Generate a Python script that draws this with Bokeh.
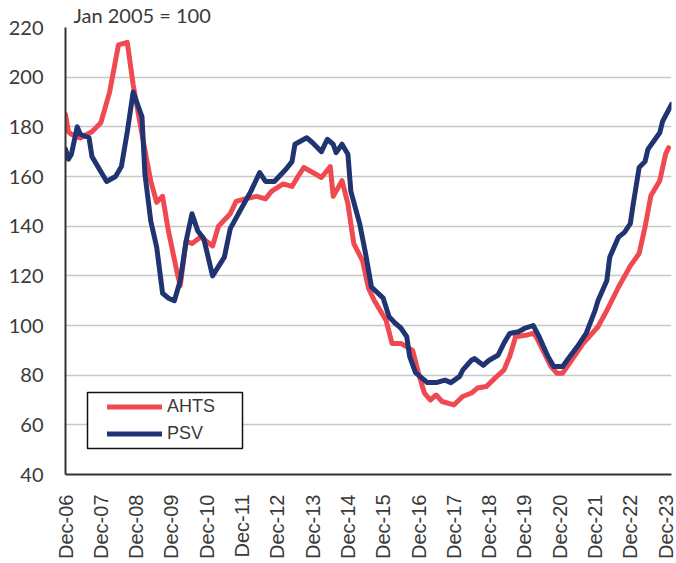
from bokeh.plotting import figure
from bokeh.models import (ColumnDataSource, FixedTicker, Legend, LegendItem,
                          BoxAnnotation, Range1d)
from bokeh.embed import file_html
from bokeh.resources import INLINE

# ---- data (x = months since Dec 2006) ----
tick_months = [0, 12, 24, 36, 48, 60, 72, 84, 96, 108, 120, 132, 144, 156, 168, 180, 192, 204]
tick_labels = ["Dec-06", "Dec-07", "Dec-08", "Dec-09", "Dec-10", "Dec-11", "Dec-12", "Dec-13",
               "Dec-14", "Dec-15", "Dec-16", "Dec-17", "Dec-18", "Dec-19", "Dec-20", "Dec-21",
               "Dec-22", "Dec-23"]

ahts_month = [0, 1, 2, 5, 9, 12, 15, 18, 21, 23, 26, 29, 31, 33, 35, 38, 39, 41, 43, 46, 50, 52,
              56, 58, 61, 65, 68, 70, 74, 77, 79, 81, 85, 87, 90, 91, 94, 96, 98, 101, 103, 105,
              107, 109, 111, 114, 118, 120, 122, 124, 126, 128, 132, 135, 138, 140, 143, 146, 149,
              151, 153, 157, 159, 160, 165, 167, 169, 172, 176, 181, 184, 188, 192, 195, 197, 199,
              202, 204, 205]
ahts_value = [185, 178, 177, 175.5, 178, 181.6, 194, 213, 214, 197, 177, 158, 149.6, 152, 138, 121,
              116, 134, 133, 135.6, 132, 140, 145, 150, 151, 152, 151, 154, 157, 156, 160, 163.6,
              161, 159.6, 164, 152, 158.3, 149, 133, 126, 115, 110, 106, 102, 92.8, 92.8, 90, 80.8,
              72.8, 70, 72, 69.4, 68, 71.4, 72.8, 74.8, 75.4, 78.8, 82, 87.5, 95.5, 96.2, 96.8,
              95.5, 83.5, 80.8, 80.8, 86, 92.8, 99.5, 106, 115.5, 124, 129, 139.6, 152.3, 158.3,
              169, 171.6]

psv_month = [0, 1, 2, 4, 5, 8, 9, 13, 14, 17, 19, 21, 23, 26, 27, 29, 31, 33, 35, 37, 39, 41, 43,
             45, 47, 50, 54, 56, 60, 63, 66, 68, 71, 75, 77, 78, 82, 84, 87, 89, 91, 92, 94, 96,
             97, 100, 102, 104, 108, 110, 112, 114, 116, 117, 119, 123, 126, 129, 131, 134, 135,
             138, 139, 142, 144, 147, 149, 151, 154, 156, 159, 161, 164, 166, 169, 171, 174, 177,
             180, 181, 184, 185, 188, 190, 192, 193, 195, 197, 198, 200, 202, 203, 206]
psv_value = [171, 167, 169, 180, 177, 175.6, 168, 160, 158, 160, 164, 178, 194, 184, 161, 142,
             131.5, 113, 111, 110, 118, 134, 145, 138, 135, 120, 127.5, 139, 147.6, 154, 161.6, 158,
             158, 163, 166, 173, 175.6, 173.6, 170, 175, 173, 169.6, 173, 169, 154, 141, 129,
             115.5, 111, 103.5, 101, 99, 95.5, 87.5, 81, 77, 77, 78, 77, 79.5, 82, 86, 86.7, 84,
             86, 88, 92.8, 96.8, 97.5, 98.8, 100, 95.5, 87.5, 83.5, 83.5, 86.8, 91.5, 96.8, 106,
             110, 118, 127.5, 135.6, 137.5, 141, 149, 163.6, 166, 171, 174.3, 177.6, 182.3, 189]

y_ticks = [40, 60, 80, 100, 120, 140, 160, 180, 200, 220]

RED = "#EF4A51"
NAVY = "#1F3471"
TXT = "#3a3a3a"

p = figure(width=676, height=563, output_backend="svg", toolbar_location=None,
           x_range=Range1d(0, 206), y_range=Range1d(40, 220),
           min_border_left=65, min_border_right=5, min_border_top=26, min_border_bottom=89,
           title="Jan 2005 = 100")
p.outline_line_color = None
p.background_fill_color = "white"
p.border_fill_color = "white"

# subtitle as the figure title
p.title.align = "left"
p.title.offset = 8
p.title.standoff = 1
p.title.text_font = "Lato"
p.title.text_font_style = "normal"
p.title.text_font_size = "20px"
p.title.text_color = TXT

src_a = ColumnDataSource(dict(x=ahts_month, y=ahts_value))
src_p = ColumnDataSource(dict(x=psv_month, y=psv_value))
r_a = p.line("x", "y", source=src_a, line_color=RED, line_width=5, line_join="round", line_cap="round")
r_p = p.line("x", "y", source=src_p, line_color=NAVY, line_width=5, line_join="round", line_cap="round")

# axes
p.xgrid.grid_line_color = None
p.ygrid.grid_line_color = "#c8c8c8"
p.ygrid.grid_line_width = 1.5
p.yaxis.ticker = FixedTicker(ticks=y_ticks)
p.xaxis.ticker = FixedTicker(ticks=tick_months)
p.xaxis.major_label_overrides = {m: l for m, l in zip(tick_months, tick_labels)}
p.xaxis.major_label_orientation = 3.14159265 / 2
for ax in (p.xaxis, p.yaxis):
    ax.axis_line_color = "#333333"
    ax.axis_line_width = 2
    ax.major_tick_line_color = None
    ax.minor_tick_line_color = None
    ax.major_label_text_color = TXT
p.yaxis.major_label_text_font = "Lato"
p.yaxis.major_label_text_font_size = "20px"
p.yaxis.major_label_standoff = 16
p.xaxis.major_label_text_font = "Liberation Sans"
p.xaxis.major_label_text_font_size = "20px"
p.xaxis.major_label_standoff = 14

# legend frame + legend
p.add_layout(BoxAnnotation(left=22, right=177, bottom=26, top=82,
                           left_units="screen", right_units="screen",
                           bottom_units="screen", top_units="screen",
                           fill_color="white", fill_alpha=1.0,
                           line_color="#111111", line_width=1.5, line_alpha=1.0))
legend = Legend(items=[LegendItem(label="AHTS", renderers=[r_a]),
                       LegendItem(label="PSV", renderers=[r_p])],
                location=(42, 27), padding=1, spacing=0, glyph_width=55, glyph_height=27,
                label_height=27, label_standoff=5, label_text_font="Liberation Sans",
                label_text_font_size="18px", label_text_color=TXT,
                border_line_color=None, background_fill_alpha=0)
p.add_layout(legend)

open("out.html", "w").write(file_html(p, INLINE))
